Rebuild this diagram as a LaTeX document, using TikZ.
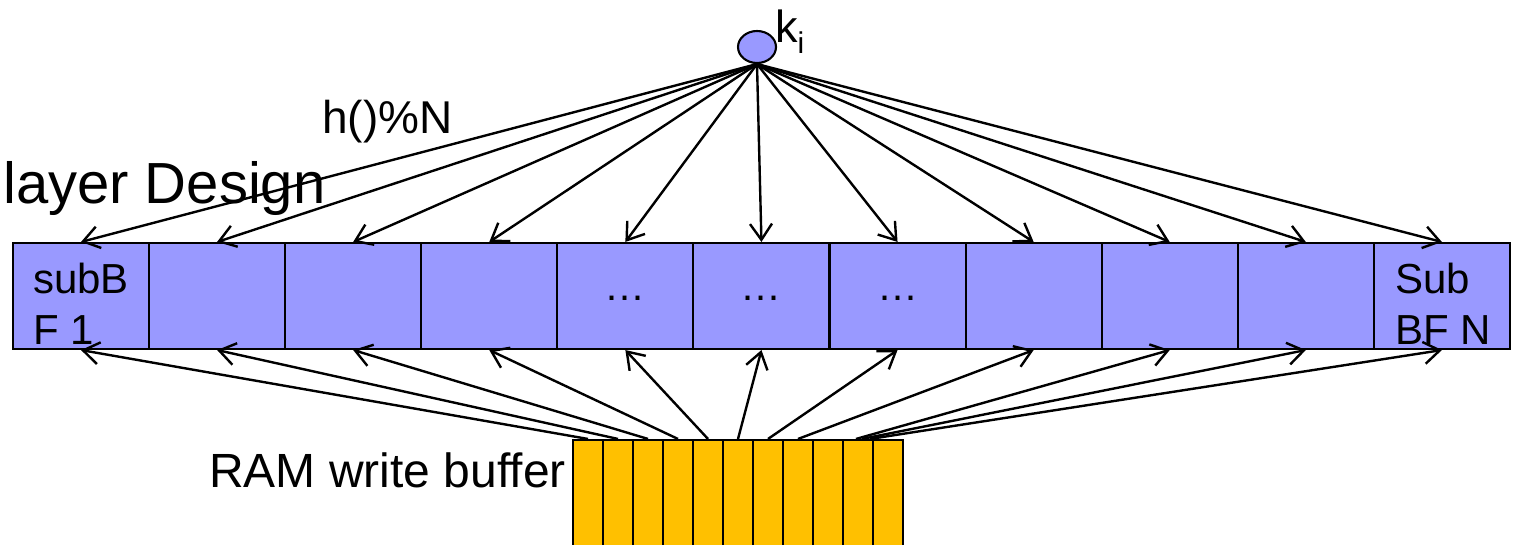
\documentclass[tikz,border=0pt]{standalone}
\usepackage{fontspec}
\setmainfont{Liberation Sans}
\usetikzlibrary{arrows.meta,shapes.geometric}
\definecolor{cellblue}{RGB}{153,153,255}
\definecolor{bufgold}{RGB}{255,192,0}
\tikzset{
  cell/.style={draw=black, fill=cellblue, line width=2.1pt, rectangle,
    minimum width=136.1pt, minimum height=106pt, inner sep=0pt},
  bufcell/.style={draw=black, fill=bufgold, line width=2.1pt, rectangle,
    minimum width=30pt, minimum height=120pt, inner sep=0pt},
  link/.style={draw=black, line width=2.4pt, line join=round,
    -{Straight Barb[length=16pt,width=22pt,line width=2.4pt]}},
  lbl/.style={inner sep=0pt, text=black},
}
\begin{document}
\begin{tikzpicture}[x=1pt,y=-1pt]
\useasboundingbox (0,0) rectangle (1515,544);
\clip (0,0) rectangle (1515,544);

% row of sub-filters
\foreach \i in {1,...,11}
  \node[cell] (c\i) at ({81+136.09*(\i-1)},296) {};

% write buffer slots
\foreach \j in {1,...,11}
  \node[bufcell] (b\j) at ({588+30*(\j-1)},500) {};

% key node
\node[ellipse, draw=black, fill=cellblue, line width=2.1pt, inner sep=0pt,
      minimum width=38pt, minimum height=32pt] (key) at (757,47) {};
\node[lbl, anchor=base west] (klbl) at (775,42)
  {\fontsize{45}{45}\selectfont k\raisebox{-11pt}{\fontsize{30}{30}\selectfont i}};

% hashing arrows
\foreach \i in {1,...,11}
  \draw[link] (key.south) -- (c\i.north);

% flush arrows from the buffer
\coordinate (s9) at ([xshift=-2pt]b10.north);
\coordinate (s10) at ([xshift=4pt]b10.north);
\coordinate (s11) at ([xshift=12pt]b10.north);
\foreach \i/\s in {1/b1.north,2/b2.north,3/b3.north,4/b4.north,5/b5.north,
                   6/b6.north,7/b7.north,8/b8.north,9/s9,10/s10,11/s11}
  \draw[link] (\s) -- (c\i.south);

% labels
\node[lbl, anchor=base west] (title) at (3,203)
  {\fontsize{58}{60}\selectfont layer Design};
\node[lbl, anchor=base west] (hash) at (322,133)
  {\fontsize{46}{48}\selectfont h()\%N};
\node[lbl, anchor=base east] (ram) at (566,487)
  {\fontsize{48}{50}\selectfont RAM write buffer};

\node[lbl, anchor=base west] (f1a) at (33,293) {\fontsize{42}{42}\selectfont subB};
\node[lbl, anchor=base west] (f1b) at (33,344) {\fontsize{42}{42}\selectfont F 1};
\node[lbl, anchor=base west] (fna) at (1395,293) {\fontsize{42}{42}\selectfont Sub};
\node[lbl, anchor=base west] (fnb) at (1395,344) {\fontsize{42}{42}\selectfont BF N};

\foreach \i in {5,6,7}
  \node[lbl, anchor=base] (dots\i) at ([yshift=-4pt]c\i.center)
    {\fontsize{41}{41}\selectfont …};
\end{tikzpicture}
\end{document}
